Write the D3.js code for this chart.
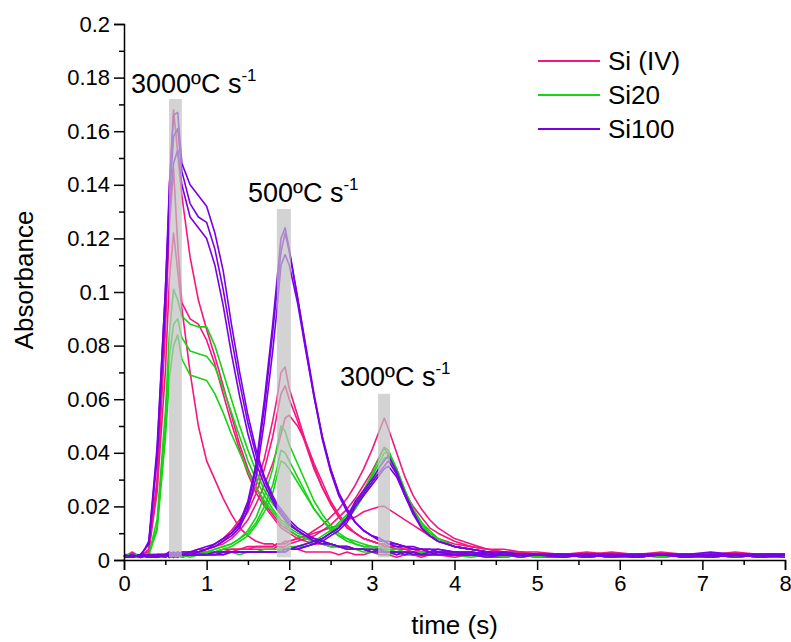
<!DOCTYPE html>
<html>
<head>
<meta charset="utf-8">
<script src="https://cdn.jsdelivr.net/npm/d3@7"></script>
<style>
body { margin: 0; background: #fff; }
text { font-family: Arial, "Liberation Sans", sans-serif; fill: #000; }
</style>
</head>
<body>
<script>
// sample times (s), shared by every trace
const time = [0, 0.1, 0.2, 0.3, 0.4, 0.5, 0.55, 0.6, 0.65, 0.7,
    0.8, 0.9, 1.0, 1.1, 1.2, 1.3, 1.4, 1.5, 1.6, 1.7,
    1.8, 1.85, 1.9, 1.95, 2.0, 2.1, 2.2, 2.3, 2.4, 2.5,
    2.6, 2.7, 2.8, 2.9, 3.0, 3.1, 3.15, 3.2, 3.3, 3.4,
    3.5, 3.6, 3.7, 3.8, 4.0, 4.2, 4.4, 4.6, 4.8, 5.0,
    5.3, 5.6, 5.9, 6.2, 6.5, 6.8, 7.1, 7.4, 7.7, 8.0];

const seriesNames = ['Si (IV)', 'Si20', 'Si100'];
const rateLabels = ['3000', '500', '300'];
const barStart = [0.545, 1.85, 3.075];
const barEnd = [0.70, 2.02, 3.22];
const barTop = [0.172, 0.131, 0.062];

// Si (IV) traces, 3 repeats per heating rate
const siIV_3000 = [
    [0.001,0.002,0.001,0.004,0.030,0.090,0.140,0.168,0.152,0.136,
     0.113,0.097,0.086,0.076,0.065,0.054,0.043,0.034,0.027,0.021,
     0.017,0.015,0.013,0.012,0.011,0.009,0.008,0.007,0.006,0.006,
     0.005,0.005,0.004,0.004,0.004,0.003,0.003,0.003,0.003,0.003,
     0.002,0.003,0.002,0.002,0.002,0.003,0.002,0.002,0.001,0.002,
     0.002,0.001,0.002,0.001,0.002,0.002,0.001,0.002,0.001,0.002],
    [0.002,0.001,0.002,0.003,0.028,0.085,0.125,0.146,0.118,0.096,
     0.090,0.088,0.082,0.073,0.062,0.051,0.041,0.032,0.025,0.020,
     0.016,0.014,0.012,0.011,0.010,0.008,0.007,0.006,0.006,0.005,
     0.005,0.004,0.004,0.004,0.003,0.003,0.004,0.003,0.003,0.002,
     0.003,0.002,0.002,0.003,0.002,0.002,0.002,0.001,0.002,0.002,
     0.001,0.002,0.002,0.002,0.001,0.002,0.002,0.001,0.002,0.002],
    [0.001,0.003,0.001,0.004,0.025,0.070,0.105,0.122,0.108,0.094,
     0.070,0.050,0.037,0.030,0.023,0.017,0.012,0.009,0.007,0.006,
     0.006,0.005,0.005,0.004,0.004,0.004,0.003,0.003,0.003,0.003,
     0.002,0.003,0.002,0.002,0.003,0.002,0.002,0.002,0.001,0.002,
     0.002,0.001,0.002,0.002,0.001,0.002,0.001,0.001,0.002,0.001,
     0.001,0.002,0.001,0.001,0.002,0.001,0.001,0.002,0.001,0.001]
];
const siIV_500 = [
    [0.002,0.001,0.002,0.001,0.002,0.002,0.003,0.002,0.002,0.003,
     0.003,0.004,0.004,0.006,0.008,0.011,0.015,0.020,0.028,0.038,
     0.052,0.060,0.070,0.072,0.064,0.054,0.044,0.035,0.027,0.021,
     0.016,0.012,0.010,0.008,0.007,0.006,0.006,0.005,0.005,0.004,
     0.004,0.004,0.003,0.003,0.003,0.002,0.003,0.002,0.002,0.002,
     0.002,0.002,0.001,0.002,0.002,0.002,0.001,0.002,0.002,0.002],
    [0.001,0.002,0.001,0.002,0.002,0.001,0.002,0.002,0.003,0.002,
     0.003,0.003,0.004,0.005,0.007,0.010,0.013,0.018,0.025,0.034,
     0.046,0.054,0.062,0.065,0.060,0.052,0.043,0.034,0.027,0.021,
     0.016,0.012,0.010,0.008,0.007,0.006,0.005,0.005,0.004,0.004,
     0.004,0.003,0.003,0.003,0.002,0.003,0.002,0.002,0.002,0.001,
     0.002,0.002,0.002,0.001,0.002,0.002,0.002,0.002,0.001,0.002],
    [0.002,0.001,0.002,0.002,0.001,0.002,0.002,0.001,0.002,0.002,
     0.003,0.003,0.004,0.005,0.006,0.008,0.011,0.015,0.021,0.028,
     0.036,0.041,0.047,0.053,0.054,0.050,0.044,0.036,0.029,0.022,
     0.017,0.013,0.010,0.008,0.007,0.006,0.005,0.005,0.004,0.004,
     0.003,0.004,0.003,0.003,0.003,0.002,0.002,0.003,0.002,0.002,
     0.002,0.001,0.002,0.002,0.002,0.001,0.002,0.002,0.002,0.001]
];
const siIV_300 = [
    [0.001,0.002,0.001,0.002,0.001,0.002,0.002,0.002,0.002,0.002,
     0.002,0.003,0.003,0.003,0.003,0.004,0.004,0.004,0.005,0.005,
     0.005,0.006,0.006,0.006,0.007,0.008,0.009,0.011,0.013,0.016,
     0.019,0.023,0.028,0.034,0.041,0.049,0.053,0.049,0.040,0.031,
     0.024,0.019,0.015,0.012,0.008,0.006,0.004,0.004,0.003,0.003,
     0.002,0.002,0.003,0.002,0.002,0.002,0.002,0.003,0.002,0.002],
    [0.002,0.001,0.002,0.001,0.002,0.001,0.002,0.001,0.002,0.002,
     0.002,0.002,0.003,0.003,0.003,0.003,0.004,0.004,0.004,0.004,
     0.004,0.005,0.005,0.005,0.006,0.007,0.008,0.009,0.011,0.013,
     0.016,0.019,0.023,0.028,0.033,0.039,0.042,0.039,0.032,0.025,
     0.020,0.016,0.012,0.010,0.007,0.005,0.004,0.003,0.003,0.002,
     0.002,0.003,0.002,0.002,0.003,0.002,0.002,0.002,0.002,0.002],
    [0.001,0.001,0.002,0.001,0.002,0.002,0.001,0.002,0.002,0.001,
     0.002,0.003,0.003,0.003,0.004,0.004,0.004,0.005,0.005,0.005,
     0.005,0.006,0.006,0.007,0.007,0.008,0.009,0.010,0.011,0.012,
     0.013,0.015,0.016,0.018,0.019,0.020,0.020,0.019,0.017,0.015,
     0.013,0.011,0.009,0.008,0.006,0.005,0.004,0.003,0.003,0.002,
     0.002,0.002,0.002,0.001,0.002,0.002,0.002,0.001,0.002,0.002]
];

// Si20 traces
const si20_3000 = [
    [0.002,0.002,0.001,0.002,0.015,0.055,0.085,0.101,0.097,0.091,
     0.088,0.087,0.087,0.080,0.070,0.060,0.050,0.041,0.033,0.026,
     0.021,0.019,0.017,0.015,0.013,0.011,0.009,0.008,0.007,0.006,
     0.005,0.005,0.004,0.004,0.004,0.003,0.003,0.003,0.003,0.003,
     0.002,0.002,0.003,0.002,0.002,0.002,0.003,0.002,0.002,0.001,
     0.002,0.002,0.001,0.002,0.002,0.002,0.001,0.002,0.002,0.002],
    [0.002,0.001,0.002,0.002,0.012,0.050,0.076,0.088,0.090,0.083,
     0.078,0.077,0.076,0.072,0.064,0.055,0.046,0.037,0.030,0.024,
     0.019,0.017,0.015,0.014,0.012,0.010,0.009,0.007,0.006,0.006,
     0.005,0.004,0.004,0.004,0.003,0.003,0.003,0.003,0.002,0.003,
     0.002,0.002,0.002,0.003,0.002,0.002,0.002,0.002,0.001,0.002,
     0.002,0.001,0.002,0.002,0.001,0.002,0.002,0.001,0.002,0.002],
    [0.001,0.002,0.002,0.002,0.011,0.045,0.068,0.080,0.084,0.075,
     0.069,0.068,0.067,0.062,0.055,0.047,0.040,0.033,0.027,0.022,
     0.018,0.016,0.014,0.013,0.011,0.009,0.008,0.007,0.006,0.005,
     0.005,0.004,0.004,0.003,0.003,0.003,0.003,0.002,0.003,0.002,
     0.002,0.002,0.002,0.002,0.002,0.001,0.002,0.002,0.002,0.001,
     0.002,0.002,0.001,0.002,0.001,0.002,0.002,0.002,0.001,0.002]
];
const si20_500 = [
    [0.001,0.002,0.001,0.002,0.001,0.002,0.002,0.001,0.002,0.002,
     0.002,0.003,0.003,0.004,0.005,0.006,0.008,0.011,0.016,0.024,
     0.034,0.042,0.050,0.048,0.043,0.036,0.029,0.022,0.017,0.013,
     0.010,0.008,0.007,0.006,0.005,0.005,0.004,0.004,0.004,0.003,
     0.003,0.003,0.002,0.003,0.002,0.002,0.002,0.002,0.002,0.001,
     0.002,0.002,0.002,0.001,0.002,0.002,0.001,0.002,0.002,0.002],
    [0.002,0.001,0.002,0.001,0.002,0.001,0.002,0.002,0.001,0.002,
     0.002,0.002,0.003,0.004,0.005,0.006,0.008,0.010,0.014,0.020,
     0.028,0.034,0.041,0.040,0.037,0.031,0.025,0.019,0.015,0.012,
     0.009,0.008,0.006,0.005,0.005,0.004,0.004,0.004,0.003,0.003,
     0.003,0.002,0.003,0.002,0.002,0.002,0.002,0.001,0.002,0.002,
     0.001,0.002,0.002,0.002,0.001,0.002,0.002,0.002,0.001,0.002],
    [0.001,0.001,0.002,0.002,0.001,0.002,0.001,0.002,0.002,0.001,
     0.002,0.002,0.003,0.003,0.004,0.005,0.007,0.009,0.013,0.018,
     0.025,0.031,0.037,0.036,0.034,0.029,0.024,0.019,0.015,0.011,
     0.009,0.007,0.006,0.005,0.005,0.004,0.004,0.003,0.003,0.003,
     0.002,0.003,0.002,0.002,0.002,0.002,0.001,0.002,0.002,0.002,
     0.002,0.001,0.002,0.002,0.002,0.001,0.002,0.001,0.002,0.002]
];
const si20_300 = [
    [0.001,0.002,0.001,0.001,0.002,0.001,0.002,0.001,0.002,0.001,
     0.002,0.002,0.002,0.002,0.003,0.003,0.003,0.003,0.003,0.003,
     0.003,0.003,0.004,0.004,0.004,0.005,0.006,0.007,0.009,0.011,
     0.014,0.017,0.021,0.026,0.032,0.039,0.042,0.041,0.034,0.026,
     0.019,0.014,0.010,0.008,0.005,0.004,0.003,0.003,0.002,0.002,
     0.002,0.002,0.001,0.002,0.002,0.002,0.002,0.001,0.002,0.002],
    [0.002,0.001,0.002,0.001,0.001,0.002,0.001,0.001,0.002,0.002,
     0.002,0.002,0.002,0.003,0.002,0.003,0.003,0.003,0.003,0.004,
     0.004,0.004,0.004,0.004,0.005,0.005,0.006,0.007,0.008,0.010,
     0.013,0.016,0.020,0.025,0.031,0.037,0.040,0.040,0.034,0.026,
     0.019,0.014,0.011,0.008,0.005,0.004,0.003,0.003,0.002,0.002,
     0.002,0.001,0.002,0.002,0.002,0.002,0.001,0.002,0.002,0.001],
    [0.001,0.001,0.001,0.002,0.001,0.001,0.002,0.001,0.001,0.002,
     0.001,0.002,0.002,0.002,0.002,0.003,0.002,0.003,0.003,0.003,
     0.003,0.003,0.004,0.004,0.004,0.005,0.005,0.006,0.008,0.010,
     0.012,0.015,0.019,0.024,0.029,0.035,0.038,0.038,0.033,0.025,
     0.018,0.013,0.010,0.008,0.005,0.004,0.003,0.002,0.002,0.002,
     0.001,0.002,0.002,0.001,0.002,0.002,0.002,0.002,0.001,0.002]
];

// Si100 traces
const si100_3000 = [
    [0.001,0.001,0.002,0.006,0.040,0.100,0.140,0.166,0.167,0.148,
     0.140,0.136,0.132,0.122,0.108,0.088,0.070,0.054,0.041,0.031,
     0.024,0.021,0.019,0.017,0.015,0.012,0.010,0.008,0.007,0.006,
     0.005,0.005,0.004,0.004,0.004,0.004,0.003,0.003,0.003,0.003,
     0.003,0.002,0.003,0.002,0.002,0.002,0.002,0.002,0.002,0.002,
     0.002,0.001,0.002,0.002,0.002,0.001,0.002,0.002,0.002,0.002],
    [0.001,0.002,0.001,0.007,0.042,0.100,0.135,0.158,0.161,0.145,
     0.133,0.128,0.126,0.116,0.101,0.083,0.066,0.051,0.039,0.030,
     0.023,0.020,0.018,0.016,0.014,0.011,0.009,0.008,0.007,0.006,
     0.005,0.005,0.004,0.004,0.003,0.004,0.003,0.003,0.003,0.002,
     0.003,0.002,0.002,0.003,0.002,0.002,0.002,0.002,0.001,0.002,
     0.002,0.002,0.002,0.001,0.002,0.002,0.002,0.001,0.002,0.002],
    [0.002,0.001,0.002,0.006,0.038,0.095,0.130,0.148,0.153,0.140,
     0.128,0.124,0.120,0.110,0.095,0.077,0.061,0.047,0.036,0.028,
     0.022,0.019,0.017,0.015,0.013,0.011,0.009,0.007,0.006,0.006,
     0.005,0.004,0.004,0.004,0.003,0.003,0.003,0.003,0.002,0.003,
     0.002,0.002,0.002,0.002,0.002,0.002,0.001,0.002,0.002,0.002,
     0.001,0.002,0.002,0.002,0.002,0.001,0.002,0.002,0.001,0.002]
];
const si100_500 = [
    [0.001,0.002,0.001,0.002,0.002,0.002,0.002,0.003,0.002,0.003,
     0.003,0.004,0.005,0.006,0.008,0.010,0.014,0.022,0.036,0.060,
     0.088,0.104,0.120,0.124,0.116,0.098,0.079,0.061,0.045,0.033,
     0.024,0.018,0.014,0.011,0.009,0.008,0.007,0.007,0.006,0.005,
     0.005,0.004,0.004,0.004,0.003,0.003,0.002,0.003,0.002,0.002,
     0.002,0.002,0.002,0.001,0.002,0.002,0.002,0.002,0.001,0.002],
    [0.002,0.001,0.002,0.001,0.002,0.002,0.003,0.002,0.002,0.002,
     0.003,0.003,0.004,0.006,0.008,0.010,0.013,0.021,0.034,0.057,
     0.085,0.100,0.115,0.122,0.115,0.098,0.080,0.062,0.046,0.034,
     0.025,0.019,0.014,0.011,0.009,0.008,0.007,0.006,0.006,0.005,
     0.004,0.004,0.004,0.003,0.003,0.003,0.002,0.002,0.002,0.002,
     0.002,0.002,0.001,0.002,0.002,0.002,0.001,0.002,0.002,0.002],
    [0.001,0.001,0.002,0.002,0.001,0.002,0.002,0.002,0.003,0.002,
     0.002,0.003,0.004,0.005,0.007,0.009,0.012,0.019,0.031,0.052,
     0.078,0.093,0.110,0.114,0.110,0.096,0.078,0.061,0.046,0.034,
     0.025,0.019,0.014,0.011,0.009,0.007,0.007,0.006,0.005,0.005,
     0.004,0.004,0.003,0.004,0.003,0.002,0.003,0.002,0.002,0.002,
     0.001,0.002,0.002,0.002,0.002,0.001,0.002,0.002,0.002,0.001]
];
const si100_300 = [
    [0.001,0.002,0.001,0.002,0.001,0.002,0.001,0.002,0.002,0.002,
     0.002,0.002,0.002,0.003,0.003,0.003,0.003,0.003,0.003,0.003,
     0.003,0.003,0.003,0.004,0.004,0.005,0.006,0.007,0.008,0.010,
     0.012,0.016,0.022,0.026,0.030,0.035,0.037,0.039,0.033,0.025,
     0.018,0.012,0.009,0.007,0.005,0.004,0.003,0.003,0.002,0.002,
     0.002,0.002,0.002,0.001,0.002,0.002,0.003,0.002,0.002,0.002],
    [0.002,0.001,0.002,0.001,0.002,0.001,0.002,0.002,0.001,0.002,
     0.002,0.002,0.002,0.002,0.003,0.003,0.003,0.003,0.003,0.003,
     0.003,0.003,0.003,0.003,0.004,0.004,0.005,0.006,0.008,0.010,
     0.012,0.015,0.021,0.025,0.029,0.033,0.035,0.037,0.032,0.024,
     0.018,0.012,0.009,0.007,0.005,0.004,0.003,0.002,0.002,0.002,
     0.002,0.002,0.001,0.002,0.002,0.002,0.002,0.002,0.002,0.002],
    [0.001,0.001,0.002,0.001,0.001,0.002,0.002,0.001,0.002,0.002,
     0.002,0.002,0.002,0.002,0.002,0.003,0.003,0.003,0.003,0.003,
     0.003,0.003,0.003,0.003,0.004,0.004,0.005,0.006,0.007,0.009,
     0.011,0.014,0.020,0.024,0.028,0.032,0.034,0.035,0.031,0.024,
     0.017,0.012,0.009,0.007,0.005,0.004,0.003,0.002,0.002,0.002,
     0.002,0.001,0.002,0.002,0.002,0.002,0.001,0.002,0.002,0.002]
];

const colors = ['#f5167f', '#14d414', '#7a00e6'];

const margin = {top: 24, right: 6, bottom: 82, left: 124};
const width = 791 - margin.left - margin.right,
    height = 642 - margin.top - margin.bottom;

const draw = () => {
    const svg = d3.select('body')
        .append('svg')
        .attr('width', width + margin.left + margin.right)
        .attr('height', height + margin.top + margin.bottom)
        .append('g')
        .attr('transform', 'translate(' + margin.left + ', ' + margin.top + ')');

    const scaleX = d3.scaleLinear().domain([0, 8]).range([0, width]);
    const scaleY = d3.scaleLinear().domain([0, 0.2]).range([height, 0]);

    const line = d3.line()
        .x((d, i) => scaleX(time[i]))
        .y(d => scaleY(d));

    const groups = [
        [siIV_3000, siIV_500, siIV_300],
        [si20_3000, si20_500, si20_300],
        [si100_3000, si100_500, si100_300]
    ];

    // traces: Si (IV) first, Si100 last (on top)
    groups.forEach((sets, k) => {
        const traces = sets.flat();
        svg.append('g')
            .selectAll('path')
            .data(traces)
            .enter()
            .append('path')
            .attr('d', line)
            .attr('fill', 'none')
            .attr('stroke', colors[k])
            .attr('stroke-width', 1.6)
            .attr('stroke-linejoin', 'round');
    });

    // grey markers of peak time, drawn over the traces
    svg.append('g')
        .selectAll('rect')
        .data(barTop)
        .enter()
        .append('rect')
        .attr('x', (d, i) => scaleX(barStart[i]))
        .attr('width', (d, i) => scaleX(barEnd[i]) - scaleX(barStart[i]))
        .attr('y', d => scaleY(d))
        .attr('height', d => scaleY(0.001) - scaleY(d))
        .attr('fill', '#c0c0c0')
        .attr('fill-opacity', 0.7);

    // axes
    const fmt = d => d === 0 ? '0' : String(+d.toFixed(2));
    const xAxis = d3.axisBottom(scaleX).tickValues(d3.range(0, 9)).tickSize(10).tickPadding(5).tickFormat(fmt);
    const xMinor = d3.axisBottom(scaleX).tickValues(d3.range(0.5, 8, 1)).tickSize(5).tickFormat('');
    const yAxis = d3.axisLeft(scaleY).tickValues(d3.range(0, 0.201, 0.02)).tickSize(10).tickPadding(4).tickFormat(fmt);
    const yMinor = d3.axisLeft(scaleY).tickValues(d3.range(0.01, 0.2, 0.02)).tickSize(5).tickFormat('');

    const gX = svg.append('g').attr('transform', 'translate(0, ' + height + ')').call(xAxis);
    svg.append('g').attr('transform', 'translate(0, ' + height + ')').call(xMinor).select('.domain').remove();
    const gY = svg.append('g').call(yAxis);
    svg.append('g').call(yMinor).select('.domain').remove();

    [gX, gY].forEach(g => {
        g.selectAll('text').attr('font-size', 22).attr('font-family', 'Arial, "Liberation Sans", sans-serif');
        g.select('.domain').attr('stroke-width', 1.5);
    });
    svg.selectAll('.tick line').attr('stroke-width', 1.5);

    svg.append('text')
        .attr('x', width / 2)
        .attr('y', height + 74)
        .attr('text-anchor', 'middle')
        .attr('font-size', 26)
        .text('time (s)');

    svg.append('text')
        .attr('transform', 'translate(' + (-91) + ', ' + 256 + ') rotate(-90)')
        .attr('text-anchor', 'middle')
        .attr('font-size', 26)
        .text('Absorbance');

    // heating-rate annotations
    const notePos = [[7, 69], [124, 178], [216, 362]];
    rateLabels.forEach((r, i) => {
        const t = svg.append('text')
            .attr('x', notePos[i][0])
            .attr('y', notePos[i][1])
            .attr('font-size', 27);
        t.append('tspan').text(r + 'ºC s');
        t.append('tspan').attr('dy', -12).attr('font-size', 17).text('-1');
    });

    // legend
    const legend = svg.append('g').attr('transform', 'translate(414, 37)');
    seriesNames.forEach((name, i) => {
        legend.append('line')
            .attr('x1', 0).attr('x2', 62)
            .attr('y1', i * 34).attr('y2', i * 34)
            .attr('stroke', colors[i])
            .attr('stroke-width', 2);
        legend.append('text')
            .attr('x', 70)
            .attr('y', i * 34 + 9)
            .attr('font-size', 26)
            .text(name);
    });
};

draw();
</script>
</body>
</html>
